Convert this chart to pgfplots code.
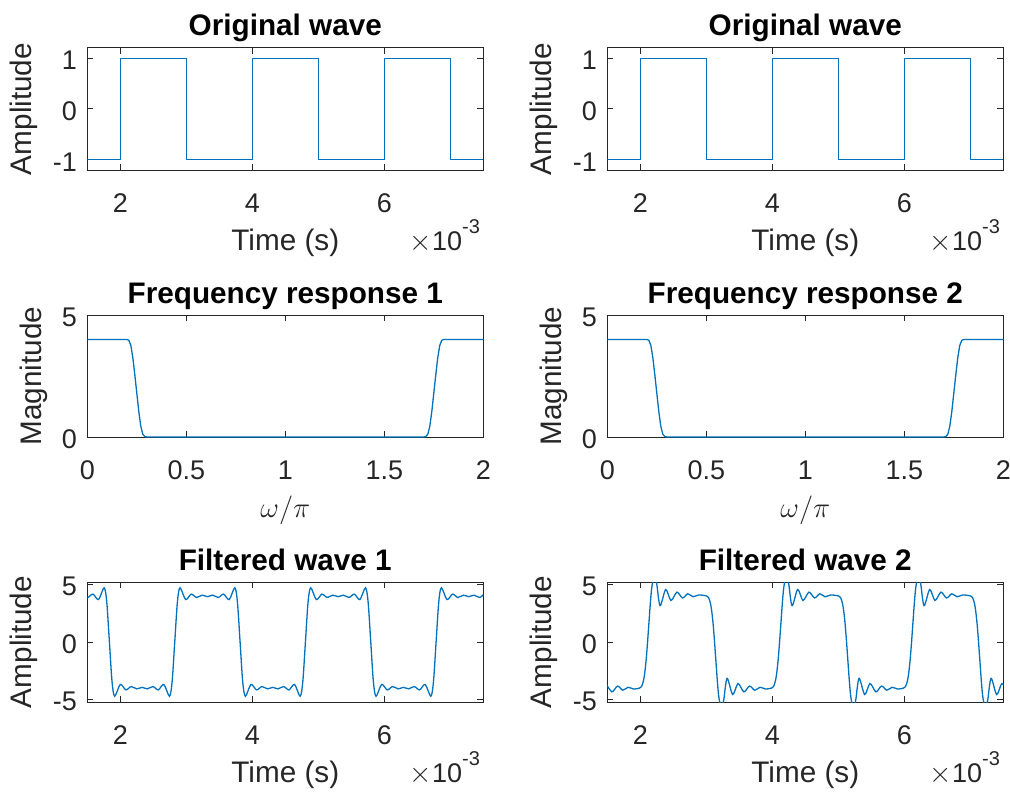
\documentclass[border=0pt]{standalone}
\usepackage{fontspec}
\setmainfont{Liberation Sans}
\usepackage{pgfplots}
\pgfplotsset{compat=1.18}
\definecolor{mblue}{rgb}{0,0.447,0.741}
\definecolor{mgray}{rgb}{0.15,0.15,0.15}
\newcommand{\tickfont}{\fontsize{13.5}{14}\selectfont}
\newcommand{\labfont}{\fontsize{14.85}{16}\selectfont}
\newcommand{\xexp}{$\times$10\raisebox{0.6em}{\fontsize{10}{10}\selectfont -3}}

\tikzset{expnode/.style={anchor=base east, font=\tickfont, text=mgray, inner sep=0pt,
    yshift=-40pt, xshift=-1.5pt}}

\pgfplotsset{
  mlab/.style={
    scale only axis, width=198pt, height=61pt,
    clip mode=individual,
    axis line style={mgray, line width=0.5pt},
    every tick/.style={mgray, line width=0.5pt},
    major tick length=3pt, tick align=inside,
    xticklabel style={font=\tickfont, text=mgray, anchor=base, yshift=-21pt},
    yticklabel style={font=\tickfont, text=mgray, anchor=east, inner sep=0pt, xshift=-5pt, yshift=-1pt},
    every axis title/.style={at={(rel axis cs:0.5,1)}, anchor=base, yshift=6pt,
      font=\bfseries\labfont, text=black},
    every axis x label/.style={at={(rel axis cs:0.5,0)}, anchor=base, yshift=-40pt,
      font=\labfont, text=mgray},
    every axis y label/.style={at={(rel axis cs:-0.1414,0.5)}, rotate=90, anchor=base,
      font=\labfont, text=mgray},
    every axis plot/.append style={mblue, line width=0.65pt, no markers},
  },
  timeax/.style={mlab, xmin=1.5, xmax=7.5, xtick={2,4,6}, xticklabels={2,4,6},
    xlabel={Time (s)}, ylabel={Amplitude}},
  origax/.style={timeax, title={Original wave}, ymin=-1.2, ymax=1.2,
    ytick={-1,0,1}, yticklabels={-1,0,1}},
  filtax/.style={timeax, height=60pt, ymin=-5.2, ymax=5.2,
    ytick={-5,0,5}, yticklabels={-5,0,5}},
  freqax/.style={mlab, xmin=0, xmax=2, ymin=0, ymax=5, clip=false,
    xtick={0,0.5,1,1.5,2}, xticklabels={0,0.5,1,1.5,2},
    ytick={0,5}, yticklabels={0,5},
    xlabel={$\omega/\pi$}, ylabel={Magnitude},
    every axis y label/.append style={at={(rel axis cs:-0.116,0.5)}}},
}

\begin{document}
\begin{tikzpicture}
\useasboundingbox (0,0) rectangle (505pt,397pt);

% row 1: original square wave
\begin{axis}[origax, at={(43.65pt,312pt)}, anchor=south west]
\addplot[] coordinates {(1.5,-1)(2.0,-1)(2.0,1)(3.0,1)(3.0,-1)(4.0,-1)(4.0,1)(5.0,1)(5.0,-1)(6.0,-1)(6.0,1)(7.0,1)(7.0,-1)(7.5,-1)};
\node[expnode] at (rel axis cs:1,0) {\xexp};
\end{axis}
\begin{axis}[origax, at={(303.65pt,312pt)}, anchor=south west]
\addplot[] coordinates {(1.5,-1)(2.0,-1)(2.0,1)(3.0,1)(3.0,-1)(4.0,-1)(4.0,1)(5.0,1)(5.0,-1)(6.0,-1)(6.0,1)(7.0,1)(7.0,-1)(7.5,-1)};
\node[expnode] at (rel axis cs:1,0) {\xexp};
\end{axis}

% row 2: frequency responses
\begin{axis}[freqax, title={Frequency response 1}, at={(43.65pt,178.5pt)}, anchor=south west]
\addplot[] coordinates {(0,4)(0.2,4)(0.21,3.96)(0.22,3.75)(0.23,3.25)(0.24,2.55)(0.25,1.8)(0.26,1.05)(0.27,0.45)(0.28,0.12)(0.29,0.02)(0.3,0)
 (1.7,0)(1.71,0.02)(1.72,0.12)(1.73,0.45)(1.74,1.05)(1.75,1.8)(1.76,2.55)(1.77,3.25)(1.78,3.75)(1.79,3.96)(1.8,4)(2,4)};
\end{axis}
\begin{axis}[freqax, title={Frequency response 2}, at={(303.65pt,178.5pt)}, anchor=south west]
\addplot[] coordinates {(0,4)(0.2,4)(0.21,3.96)(0.22,3.75)(0.23,3.25)(0.24,2.55)(0.25,1.8)(0.26,1.05)(0.27,0.45)(0.28,0.12)(0.29,0.02)(0.3,0)
 (1.7,0)(1.71,0.02)(1.72,0.12)(1.73,0.45)(1.74,1.05)(1.75,1.8)(1.76,2.55)(1.77,3.25)(1.78,3.75)(1.79,3.96)(1.8,4)(2,4)};
\end{axis}

% row 3: filtered waves
\begin{axis}[filtax, title={Filtered wave 1}, at={(43.65pt,46pt)}, anchor=south west]
\addplot[smooth] coordinates {
 (1.42,4.06)(1.505,3.86)(1.585,4.15)(1.67,3.68)(1.755,4.7)(1.795,3.45)(1.835,0)
 (1.875,-3.45)(1.915,-4.7)(2.0,-3.68)(2.085,-4.15)(2.165,-3.86)(2.25,-4.06)(2.33,-3.93)(2.41,-4.06)(2.495,-3.86)(2.575,-4.15)(2.66,-3.68)(2.745,-4.7)(2.785,-3.45)(2.825,0)
 (2.865,3.45)(2.905,4.7)(2.99,3.68)(3.075,4.15)(3.155,3.86)(3.24,4.06)(3.32,3.93)(3.4,4.06)(3.485,3.86)(3.565,4.15)(3.65,3.68)(3.735,4.7)(3.775,3.45)(3.815,0)
 (3.855,-3.45)(3.895,-4.7)(3.98,-3.68)(4.065,-4.15)(4.145,-3.86)(4.23,-4.06)(4.31,-3.93)(4.39,-4.06)(4.475,-3.86)(4.555,-4.15)(4.64,-3.68)(4.725,-4.7)(4.765,-3.45)(4.805,0)
 (4.845,3.45)(4.885,4.7)(4.97,3.68)(5.055,4.15)(5.135,3.86)(5.22,4.06)(5.3,3.93)(5.38,4.06)(5.465,3.86)(5.545,4.15)(5.63,3.68)(5.715,4.7)(5.755,3.45)(5.795,0)
 (5.835,-3.45)(5.875,-4.7)(5.96,-3.68)(6.045,-4.15)(6.125,-3.86)(6.21,-4.06)(6.29,-3.93)(6.37,-4.06)(6.455,-3.86)(6.535,-4.15)(6.62,-3.68)(6.705,-4.7)(6.745,-3.45)(6.785,0)
 (6.825,3.45)(6.865,4.7)(6.95,3.68)(7.035,4.15)(7.115,3.86)(7.2,4.06)(7.28,3.93)(7.36,4.06)(7.445,3.86)(7.525,4.15)(7.61,3.68)};
\node[expnode] at (rel axis cs:1,0) {\xexp};
\end{axis}
\begin{axis}[filtax, title={Filtered wave 2}, at={(303.65pt,46pt)}, anchor=south west]
\addplot[smooth] coordinates {
 (1.48,-3.6)(1.57,-4.32)(1.655,-3.82)(1.735,-4.18)(1.815,-3.92)(1.9,-4.08)
 (1.99,-3.99)(2.02,-3.85)(2.05,-3.3)(2.07,-2.55)(2.09,-1.45)(2.11,0)(2.13,1.6)(2.15,3.2)(2.17,4.55)(2.19,5.25)(2.21,5.42)(2.23,5.35)(2.25,5.0)
 (2.30,3.15)(2.385,4.55)(2.465,3.6)(2.555,4.32)(2.64,3.82)(2.72,4.18)(2.80,3.92)(2.885,4.08)
 (3.005,3.99)(3.035,3.85)(3.065,3.3)(3.085,2.55)(3.105,1.45)(3.125,0)(3.145,-1.6)(3.165,-3.2)(3.185,-4.55)(3.205,-5.25)(3.225,-5.42)(3.245,-5.35)(3.265,-5.0)
 (3.315,-3.15)(3.4,-4.55)(3.48,-3.6)(3.57,-4.32)(3.655,-3.82)(3.735,-4.18)(3.815,-3.92)(3.9,-4.08)
 (3.99,-3.99)(4.02,-3.85)(4.05,-3.3)(4.07,-2.55)(4.09,-1.45)(4.11,0)(4.13,1.6)(4.15,3.2)(4.17,4.55)(4.19,5.25)(4.21,5.42)(4.23,5.35)(4.25,5.0)
 (4.30,3.15)(4.385,4.55)(4.465,3.6)(4.555,4.32)(4.64,3.82)(4.72,4.18)(4.80,3.92)(4.885,4.08)
 (5.005,3.99)(5.035,3.85)(5.065,3.3)(5.085,2.55)(5.105,1.45)(5.125,0)(5.145,-1.6)(5.165,-3.2)(5.185,-4.55)(5.205,-5.25)(5.225,-5.42)(5.245,-5.35)(5.265,-5.0)
 (5.315,-3.15)(5.4,-4.55)(5.48,-3.6)(5.57,-4.32)(5.655,-3.82)(5.735,-4.18)(5.815,-3.92)(5.9,-4.08)
 (5.99,-3.99)(6.02,-3.85)(6.05,-3.3)(6.07,-2.55)(6.09,-1.45)(6.11,0)(6.13,1.6)(6.15,3.2)(6.17,4.55)(6.19,5.25)(6.21,5.42)(6.23,5.35)(6.25,5.0)
 (6.30,3.15)(6.385,4.55)(6.465,3.6)(6.555,4.32)(6.64,3.82)(6.72,4.18)(6.80,3.92)(6.885,4.08)
 (7.005,3.99)(7.035,3.85)(7.065,3.3)(7.085,2.55)(7.105,1.45)(7.125,0)(7.145,-1.6)(7.165,-3.2)(7.185,-4.55)(7.205,-5.25)(7.225,-5.42)(7.245,-5.35)(7.265,-5.0)
 (7.315,-3.15)(7.4,-4.55)(7.48,-3.6)(7.57,-4.32)};
\node[expnode] at (rel axis cs:1,0) {\xexp};
\end{axis}
\end{tikzpicture}
\end{document}
